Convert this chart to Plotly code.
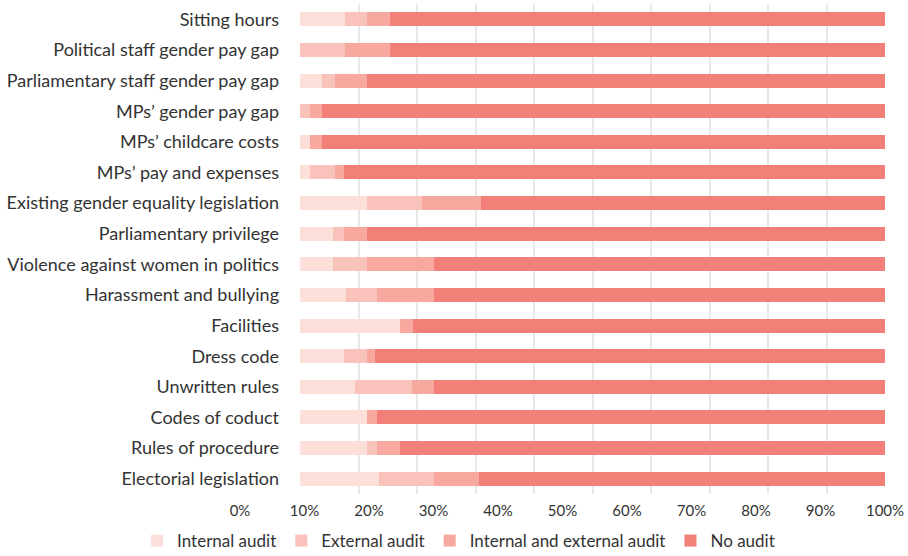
"""
Audit coverage by policy area: stacked horizontal bar chart.
"""
import plotly.graph_objects as go

# ── Data ──────────────────────────────────────────────────────────────────────
CATEGORIES = [
    "Sitting hours",
    "Political staff gender pay gap",
    "Parliamentary staff gender pay gap",
    "MPs’ gender pay gap",
    "MPs’ childcare costs",
    "MPs’ pay and expenses",
    "Existing gender equality legislation",
    "Parliamentary privilege",
    "Violence against women in politics",
    "Harassment and bullying",
    "Facilities",
    "Dress code",
    "Unwritten rules",
    "Codes of coduct",
    "Rules of procedure",
    "Electorial legislation",
]

INTERNAL = [7.7, 0.0, 3.8, 0.0, 1.7, 1.7, 11.5, 5.6, 5.6, 7.9, 17.1, 7.5, 9.4, 11.5, 11.5, 13.5]
EXTERNAL = [3.8, 7.7, 2.1, 1.7, 0.0, 4.3, 9.4, 1.9, 5.8, 5.3, 0.0, 3.9, 9.7, 0.0, 1.7, 9.4]
BOTH = [3.9, 7.7, 5.6, 2.1, 2.1, 1.5, 10.1, 3.9, 11.5, 9.7, 2.2, 1.5, 3.8, 1.7, 3.9, 7.7]
NO_AUDIT = [84.6, 84.6, 88.5, 96.2, 96.2, 92.5, 69.0, 88.6, 77.1, 77.1, 80.7, 87.1, 77.1, 86.8, 82.9, 69.4]

TICK_VALS = [0, 10, 20, 30, 40, 50, 60, 70, 80, 90, 100]
TICK_TEXT = [f"{v}%" for v in TICK_VALS]

# ── Colours ───────────────────────────────────────────────────────────────────
PALETTE = {
    "internal": "#FCDFD9",
    "external": "#F9C3BC",
    "both":     "#F7A99F",
    "none":     "#F27F78",
    "grid":     "#E8E8E8",
    "text":     "#333333",
}
FONT = "Lato, sans-serif"

series = [
    ("Internal audit", INTERNAL, PALETTE["internal"]),
    ("External audit", EXTERNAL, PALETTE["external"]),
    ("Internal and external audit", BOTH, PALETTE["both"]),
    ("No audit", NO_AUDIT, PALETTE["none"]),
]

fig = go.Figure()
for name, vals, color in series:
    fig.add_trace(go.Bar(
        y=CATEGORIES, x=vals, name=name, orientation="h",
        marker=dict(color=color, line=dict(width=0)),
        width=0.46,
    ))

# empty trace so the (wider) label axis gets drawn
fig.add_trace(go.Scatter(x=[], y=[], xaxis="x2", yaxis="y",
                         showlegend=False, hoverinfo="skip"))

fig.update_layout(
    barmode="stack",
    width=908, height=556,
    paper_bgcolor="white", plot_bgcolor="rgba(0,0,0,0)",
    font=dict(family=FONT, color=PALETTE["text"], size=16),
    margin=dict(l=240, r=23, t=4, b=62),
    xaxis=dict(
        domain=[60 / 645, 1], range=[0, 100],
        tickvals=TICK_VALS, showticklabels=False,
        showgrid=True, gridcolor=PALETTE["grid"], gridwidth=2,
        zeroline=False, showline=False, ticks="", automargin=False,
    ),
    xaxis2=dict(
        domain=[0, 1], range=[0, 100], anchor="y",
        side="bottom", tickvals=TICK_VALS, ticktext=TICK_TEXT,
        showgrid=False, zeroline=False, showline=False, ticks="",
        ticklabelstandoff=6, automargin=False,
        tickfont=dict(size=15, color=PALETTE["text"]),
    ),
    yaxis=dict(
        categoryorder="array", categoryarray=CATEGORIES,
        autorange="reversed", showgrid=False, zeroline=False,
        ticks="", ticklabelstandoff=20, automargin=False,
        tickfont=dict(size=18, color=PALETTE["text"]),
    ),
    legend=dict(
        orientation="h", xref="container", yref="container",
        x=0.151, xanchor="left", y=0.027, yanchor="middle",
        font=dict(size=17, color=PALETTE["text"]),
        traceorder="normal",
    ),
    bargap=0.54,
)

fig.write_html(
    "out.html",
    config={"displayModeBar": False},
    post_script="document.body.style.margin='0';",
)
